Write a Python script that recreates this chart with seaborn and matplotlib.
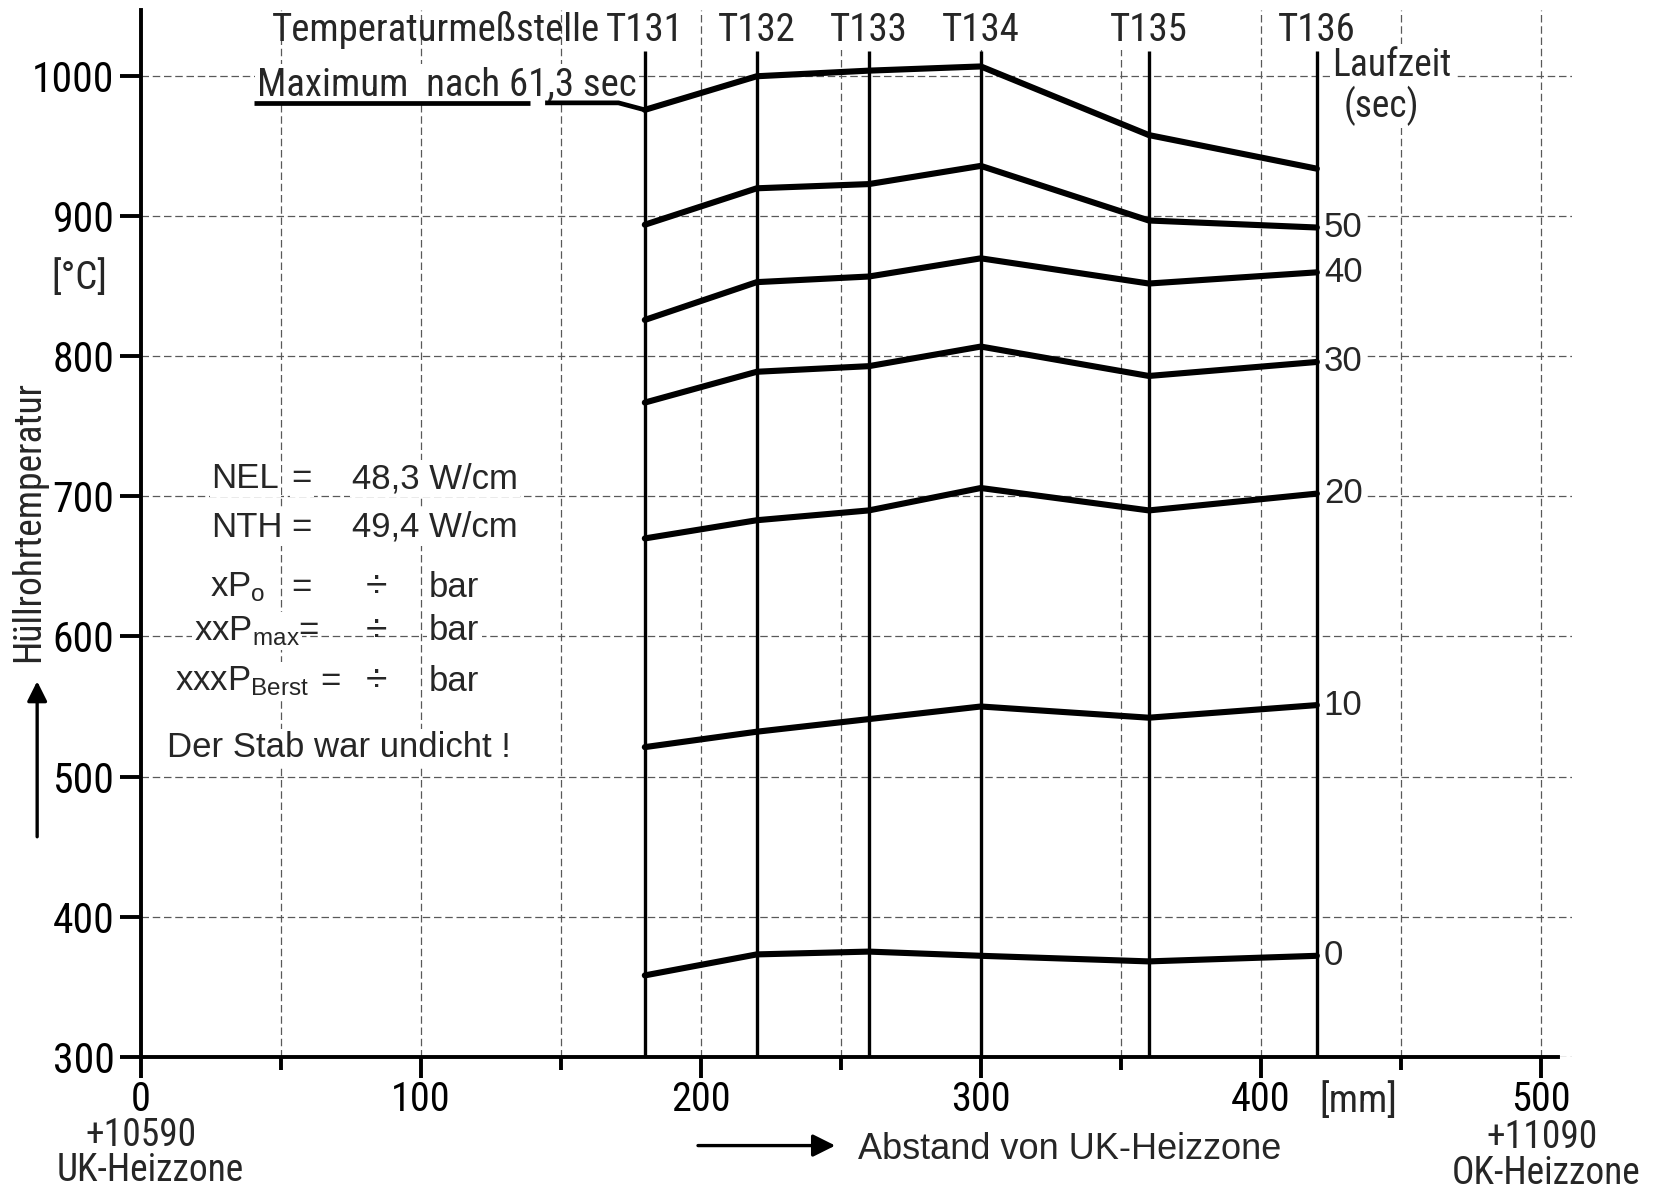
import matplotlib
matplotlib.use("Agg")
import matplotlib.pyplot as plt
import matplotlib.font_manager as fm
import numpy as np
import pandas as pd
import seaborn as sns

# ---------------- data ----------------
sensors = ["T131", "T132", "T133", "T134", "T135", "T136"]
positions = [180, 220, 260, 300, 360, 420]          # mm from UK-Heizzone
laufzeit = ["0", "10", "20", "30", "40", "50", "max"]
temp_0 = [358, 373, 375, 372, 368, 372]
temp_10 = [521, 532, 541, 550, 542, 551]
temp_20 = [670, 683, 690, 706, 690, 702]
temp_30 = [767, 789, 793, 807, 786, 796]
temp_40 = [826, 853, 857, 870, 852, 860]
temp_50 = [894, 920, 923, 936, 897, 892]
temp_max = [976, 1000, 1004, 1007, 958, 934]
x_ticks = [0, 100, 200, 300, 400, 500]
x_minor = [50, 150, 250, 350, 450]
y_ticks = [300, 400, 500, 600, 700, 800, 900, 1000]

series = [temp_0, temp_10, temp_20, temp_30, temp_40, temp_50, temp_max]

# ---------------- fonts ----------------
sns.set_theme(style="white")
entries = fm.fontManager.ttflist
names = {f.name for f in entries}
COND = None
cscale = 1.0
for cand in ["Roboto Condensed", "Liberation Sans Narrow", "Noto Sans Condensed",
             "Open Sans Condensed", "DejaVu Sans Condensed"]:
    if cand in names:
        COND = dict(family=cand)
        break
if COND is None:
    if any(f.name == "DejaVu Sans" and "ondensed" in f.fname for f in entries):
        COND = dict(family="DejaVu Sans", stretch="condensed")
    else:
        COND = dict(family="DejaVu Sans")
        cscale = 0.82
REG = "Liberation Sans" if "Liberation Sans" in names else "DejaVu Sans"
plt.rcParams["font.family"] = [REG, "DejaVu Sans"]
plt.rcParams["mathtext.fontset"] = "custom"
plt.rcParams["mathtext.rm"] = REG
plt.rcParams["mathtext.it"] = REG
plt.rcParams["mathtext.bf"] = REG


def cfont(size):
    return fm.FontProperties(size=size * cscale, **COND)


def rfont(size):
    return fm.FontProperties(family=REG, size=size)


# ---------------- figure ----------------
fig = plt.figure(figsize=(16.6, 11.98), dpi=100)
fig.patch.set_facecolor("white")
ax = fig.add_axes([0.0848, 0.118, 0.862, 0.8733])
ax.set_facecolor("white")

rows = []
for lab, temps in zip(laufzeit, series):
    for s, p, t in zip(sensors, positions, temps):
        rows.append({"Laufzeit": lab, "Messstelle": s, "pos": p, "temp": t})
df = pd.DataFrame(rows)

sns.lineplot(data=df, x="pos", y="temp", hue="Laufzeit",
             palette={l: "black" for l in laufzeit}, estimator=None,
             sort=False, legend=False, linewidth=4.4, ax=ax, zorder=4)
for ln in ax.get_lines():
    ln.set_solid_joinstyle("miter")

ax.set_xlim(0, 511)
ax.set_ylim(300, 1047)
ax.set_xlabel("")
ax.set_ylabel("")

# thermocouple verticals
ax.vlines(positions, 300, 1018, colors="black", linewidth=2.4, zorder=3)

# spines / ticks
for side in ["top", "right"]:
    ax.spines[side].set_visible(False)
for side in ["left", "bottom"]:
    ax.spines[side].set_linewidth(2.8)
    ax.spines[side].set_color("black")
    ax.spines[side].set_zorder(5)
ax.spines["left"].set_bounds(300, 1047)
ax.spines["bottom"].set_bounds(0, 506)

ax.set_xticks(x_ticks)
ax.set_xticks(x_minor, minor=True)
ax.set_yticks(y_ticks)
ax.set_xticklabels([str(v) for v in x_ticks])
ax.set_yticklabels([str(v) for v in y_ticks])
ax.tick_params(axis="y", which="major", direction="out", length=15, width=2.8,
               pad=4, colors="black", left=True)
ax.tick_params(axis="x", which="major", direction="out", length=15, width=2.8,
               pad=2, colors="black", bottom=True)
ax.tick_params(axis="x", which="minor", direction="out", length=9, width=2.8,
               colors="black", bottom=True)
for lab in ax.get_yticklabels():
    lab.set_fontproperties(cfont(30))
for lab in ax.get_xticklabels():
    lab.set_fontproperties(cfont(29))

# grid
ax.set_axisbelow(True)
ax.grid(True, which="both", axis="x", linestyle=(0, (6, 3)), linewidth=0.9, color="0.35")
ax.grid(True, which="major", axis="y", linestyle=(0, (6, 3)), linewidth=0.9, color="0.35")

WB = dict(facecolor="white", edgecolor="none", pad=1.5)

# header labels
ax.text(164, 1033, "Temperaturmeßstelle", ha="right", va="center",
        fontproperties=cfont(28), clip_on=False, zorder=6)
for s, p in zip(sensors, positions):
    ax.text(p, 1033, s, ha="center", va="center", fontproperties=cfont(28),
            clip_on=False, zorder=6, bbox=WB)

# maximum annotation
ax.text(41.5, 994, "Maximum  nach 61,3 sec", ha="left", va="center",
        fontproperties=cfont(28), zorder=6, bbox=WB)
ax.plot([40.5, 138.9], [981, 981], color="black", lw=3.4, zorder=6,
        solid_capstyle="butt")
ax.plot([144.4, 170.6, positions[0]], [981, 981, temp_max[0]], color="black",
        lw=3.4, zorder=6, solid_capstyle="butt")

# Laufzeit labels at right
ax.text(425.5, 1008, "Laufzeit", ha="left", va="center", fontproperties=cfont(27),
        zorder=6, bbox=WB)
ax.text(443, 979, "(sec)", ha="center", va="center", fontproperties=cfont(27),
        zorder=6, bbox=WB)
for lab, temps in zip(laufzeit, series):
    if lab == "max":
        continue
    ax.text(positions[-1] + 2.5, temps[-1], lab, ha="left", va="center",
            fontproperties=rfont(25), zorder=6, bbox=WB)

# parameter block
blk = 25
ax.text(25.3, 712.5, "NEL", ha="left", va="center", fontproperties=rfont(blk), zorder=6, bbox=WB)
ax.text(57.5, 712.5, "=", ha="center", va="center", fontproperties=rfont(blk), zorder=6, bbox=WB)
ax.text(75.6, 712.5, "48,3 W/cm", ha="left", va="center", fontproperties=rfont(blk), zorder=6, bbox=WB)
ax.text(25.3, 678, "NTH", ha="left", va="center", fontproperties=rfont(blk), zorder=6, bbox=WB)
ax.text(57.5, 678, "=", ha="center", va="center", fontproperties=rfont(blk), zorder=6, bbox=WB)
ax.text(75.6, 678, "49,4 W/cm", ha="left", va="center", fontproperties=rfont(blk), zorder=6, bbox=WB)

ax.text(24.6, 635, r"xP$_\mathrm{o}$", ha="left", va="center", fontproperties=rfont(blk), zorder=6, bbox=WB)
ax.text(57.5, 635, "=", ha="center", va="center", fontproperties=rfont(blk), zorder=6, bbox=WB)
ax.text(18.9, 604, r"xxP$_\mathrm{max}$", ha="left", va="center", fontproperties=rfont(blk), zorder=6, bbox=WB)
ax.text(60.0, 604, "=", ha="center", va="center", fontproperties=rfont(blk), zorder=6)
ax.text(12.1, 568, r"xxxP$_\mathrm{Berst}$", ha="left", va="center", fontproperties=rfont(blk), zorder=6, bbox=WB)
ax.text(67.7, 568, "=", ha="center", va="center", fontproperties=rfont(blk), zorder=6, bbox=WB)
for yy in [635, 604, 568]:
    ax.text(84.3, yy, "÷", ha="center", va="center", fontproperties=rfont(28), zorder=6)
    ax.text(103, yy, "bar", ha="left", va="center", fontproperties=rfont(blk), zorder=6, bbox=WB)
ax.text(9.5, 520.5, "Der Stab war undicht !", ha="left", va="center",
        fontproperties=rfont(blk), zorder=6, bbox=WB)

# axis labels / extra texts
ax.text(-22, 856, "[°C]", ha="center", va="center", fontproperties=cfont(28), clip_on=False)
ax.text(-40, 682, "Hüllrohrtemperatur", rotation=90, ha="center", va="center",
        fontproperties=cfont(27), clip_on=False)
ax.annotate("", xy=(-37, 570), xytext=(-37, 455), xycoords="data",
            arrowprops=dict(arrowstyle="-|>", lw=2.4, color="black", mutation_scale=30),
            annotation_clip=False)
ax.annotate("", xy=(249, 236.5), xytext=(198, 236.5), xycoords="data",
            arrowprops=dict(arrowstyle="-|>", lw=2.4, color="black", mutation_scale=34),
            annotation_clip=False)
ax.text(256, 233.5, "Abstand von UK-Heizzone", ha="left", va="center",
        fontproperties=rfont(26), clip_on=False)
ax.text(0, 243.5, "+10590", ha="center", va="center", fontproperties=cfont(27), clip_on=False)
ax.text(3.5, 218.5, "UK-Heizzone", ha="center", va="center", fontproperties=cfont(27), clip_on=False)
ax.text(500.5, 242, "+11090", ha="center", va="center", fontproperties=cfont(27), clip_on=False)
ax.text(502, 216.5, "OK-Heizzone", ha="center", va="center", fontproperties=cfont(27), clip_on=False)
ax.text(435, 268.5, "[mm]", ha="center", va="center", fontproperties=cfont(28), clip_on=False)

fig.savefig("out.png", dpi=100, facecolor="white")
